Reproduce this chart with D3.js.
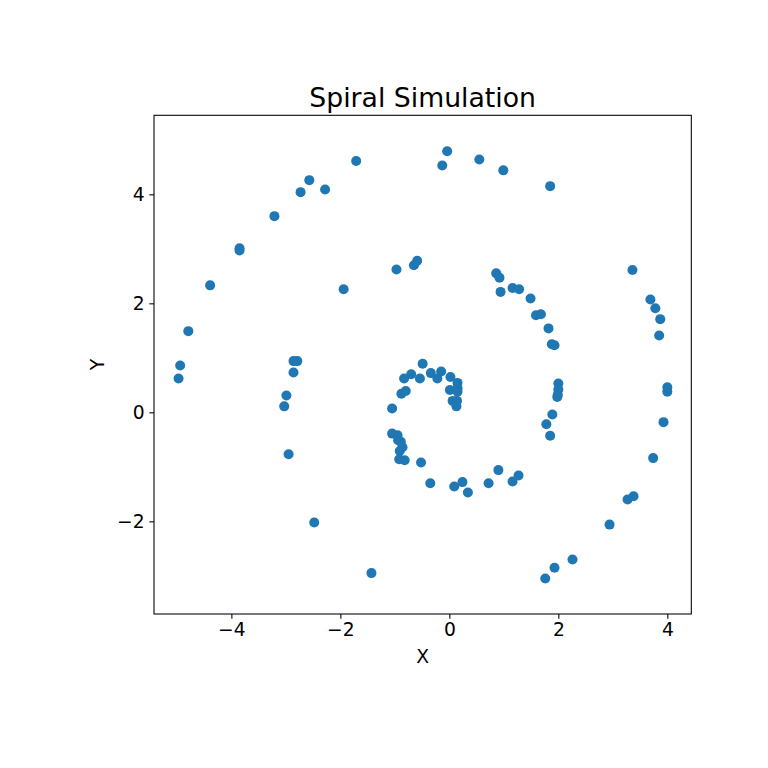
<!DOCTYPE html>
<html>
<head>
<meta charset="utf-8">
<script src="https://cdn.jsdelivr.net/npm/d3@7"></script>
<style>
  body { margin: 0; background: #fff; }
  text { font-family: "DejaVu Sans", sans-serif; fill: #000; }
</style>
</head>
<body>
<div id="chart"></div>
<script>
// point positions
const xs = [
  -1.71, -2.57, -2.73, -2.28, -3.21, -3.85, -3.85, -4.39, -4.79, -4.94, -4.97,
  -0.04, -0.13, 0.55, 0.99, 1.85,
  3.36, 3.69, 3.78, 3.87, 3.85, 4.00, 4.00, 3.93, 3.74, 3.27, 3.38, 2.94, 2.26, 1.93, 1.76,
  -1.43, -2.48,
  -0.97, -0.65, -0.59, -1.94, -2.86, -2.79, -2.86, -2.99, -3.03, -2.95,
  0.86, 0.92, 0.94, 1.16, 1.28, 1.49, 1.59, 1.68, 1.82, 1.88, 1.93,
  2.00, 2.00, 1.99, 1.98, 1.89, 1.78, 1.85,
  1.16, 1.27, 0.90, 0.72, 0.34, 0.24, 0.09, -0.35, -0.52,
  -0.49, -0.70, -0.83, -0.54, -0.88, -0.80, -1.05, -1.05, -0.95, -0.94, -0.89, -0.86, -0.91, -0.92, -0.82,
  -0.34, -0.15, -0.22, 0.02, 0.15, 0.01, 0.15, 0.15, 0.14, 0.06, 0.13
];
const ys = [
  4.61, 4.26, 4.04, 4.09, 3.60, 3.01, 2.97, 2.33, 1.49, 0.86, 0.62,
  4.79, 4.53, 4.64, 4.44, 4.15,
  2.61, 2.07, 1.91, 1.71, 1.41, 0.46, 0.38, -0.18, -0.84, -1.60, -1.54, -2.06, -2.70, -2.85, -3.05,
  -2.95, -2.02,
  2.62, 2.70, 2.78, 2.26, 0.94, 0.94, 0.73, 0.31, 0.11, -0.77,
  2.55, 2.47, 2.21, 2.28, 2.26, 2.09, 1.78, 1.80, 1.54, 1.25, 1.23,
  0.53, 0.42, 0.32, 0.28, -0.04, -0.22, -0.43,
  -1.27, -1.16, -1.06, -1.30, -1.47, -1.28, -1.36, -1.30, -0.92,
  0.89, 0.70, 0.62, 0.62, 0.34, 0.39, 0.07, -0.39, -0.42, -0.51, -0.54, -0.64, -0.71, -0.86, -0.88,
  0.72, 0.75, 0.62, 0.65, 0.54, 0.41, 0.44, 0.38, 0.21, 0.21, 0.11
];
const xTicks = [-4, -2, 0, 2, 4];
const yTicks = [-2, 0, 2, 4];
const titleText = "Spiral Simulation";

const points = xs.map((x, i) => ({x: x, y: ys[i]}));

const W = 768, H = 768;
const m = {left: 154, top: 115.3, right: 691.3, bottom: 614};

const svg = d3.select("#chart").append("svg")
    .attr("width", W)
    .attr("height", H);

const x = d3.scaleLinear().domain([-5.42, 4.44]).range([m.left, m.right]);
const y = d3.scaleLinear().domain([-3.70, 5.45]).range([m.bottom, m.top]);

const fmt = d => d < 0 ? "\u2212" + Math.abs(d) : String(d);

// points
svg.append("g")
    .selectAll("circle")
    .data(points)
    .enter().append("circle")
    .attr("cx", d => x(d.x))
    .attr("cy", d => y(d.y))
    .attr("r", 5)
    .attr("fill", "#1f77b4");

// x axis
const xAxis = svg.append("g")
    .attr("transform", `translate(0,${m.bottom})`)
    .call(d3.axisBottom(x).tickValues(xTicks).tickFormat(fmt).tickSize(4.7).tickPadding(4.5));
xAxis.select(".domain").remove();
xAxis.selectAll("line").attr("stroke", "#000").attr("stroke-width", 1.07);
xAxis.selectAll("text")
    .attr("font-family", "DejaVu Sans")
    .attr("font-size", 18.7)
    .attr("fill", "#000");

// y axis
const yAxis = svg.append("g")
    .attr("transform", `translate(${m.left},0)`)
    .call(d3.axisLeft(y).tickValues(yTicks).tickFormat(fmt).tickSize(4.7).tickPadding(4.7));
yAxis.select(".domain").remove();
yAxis.selectAll("line").attr("stroke", "#000").attr("stroke-width", 1.07);
yAxis.selectAll("text")
    .attr("font-family", "DejaVu Sans")
    .attr("font-size", 18.7)
    .attr("fill", "#000");

// frame
svg.append("rect")
    .attr("x", m.left)
    .attr("y", m.top)
    .attr("width", m.right - m.left)
    .attr("height", m.bottom - m.top)
    .attr("fill", "none")
    .attr("stroke", "#000")
    .attr("stroke-width", 1.07);

// title and labels
svg.append("text")
    .attr("x", (m.left + m.right) / 2)
    .attr("y", 107)
    .attr("text-anchor", "middle")
    .attr("font-size", 26.7)
    .text(titleText);

svg.append("text")
    .attr("x", (m.left + m.right) / 2)
    .attr("y", 663)
    .attr("text-anchor", "middle")
    .attr("font-size", 18.7)
    .text("X");

svg.append("text")
    .attr("transform", `translate(104,${(m.top + m.bottom) / 2}) rotate(-90)`)
    .attr("text-anchor", "middle")
    .attr("font-size", 18.7)
    .text("Y");
</script>
</body>
</html>
